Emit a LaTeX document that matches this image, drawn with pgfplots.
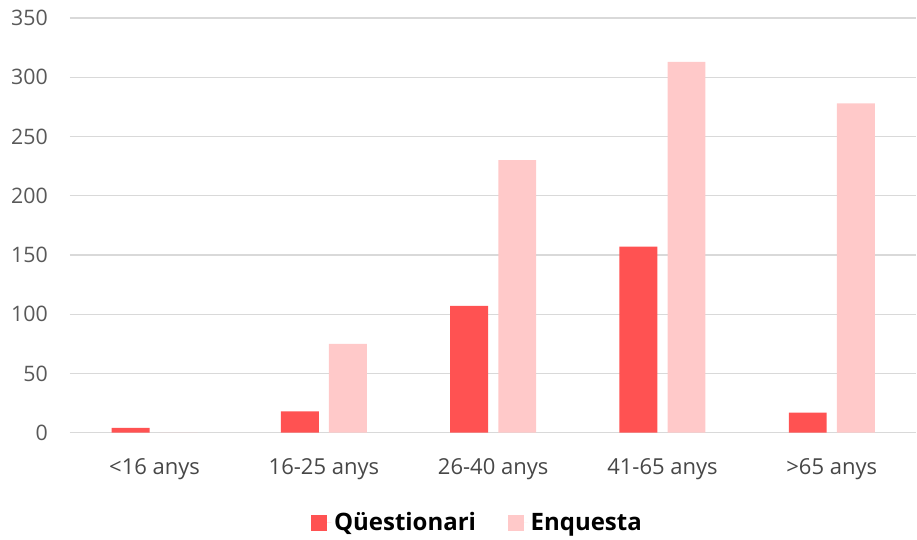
\documentclass[border=0pt]{standalone}
\usepackage{pgfplots}
\pgfplotsset{compat=1.18}
\usepackage{fontspec}
\setmainfont{Open Sans}

\definecolor{qred}{HTML}{FF5252}
\definecolor{epink}{HTML}{FFC9C9}
\definecolor{gridc}{HTML}{D9D9D9}
\definecolor{ticktxt}{HTML}{595959}

\begin{document}
\begin{tikzpicture}[x=0.75pt,y=0.75pt]
\begin{axis}[
    at={(0,0)}, anchor=south west,
    scale only axis,
    width=635.25pt, height=311.25pt,
    xmin=-0.5, xmax=4.5,
    ymin=0, ymax=350,
    xtick={0,1,2,3,4},
    xticklabels={<16 anys, 16-25 anys, 26-40 anys, 41-65 anys, >65 anys},
    ytick={0,50,...,350},
    ymajorgrids,
    grid style={gridc, line width=0.9pt},
    axis x line*=bottom,
    axis y line*=left,
    x axis line style={gridc, line width=0.9pt, -},
    y axis line style={draw=none},
    major tick length=0pt,
    tick style={draw=none},
    /pgf/number format/assume math mode=true,
    ticklabel style={font=\fontsize{16}{19}\selectfont},
    yticklabel style={text=ticktxt, anchor=east, inner sep=0pt, xshift=-16.5pt},
    xticklabel style={text=ticktxt!80!black, anchor=center, yshift=-27pt,
        font=\fontsize{16.5}{19}\selectfont},
    bar width=0.224,
    legend style={
        at={(0.482,-0.217)}, anchor=center,
        draw=none, fill=none,
        legend columns=2,
        font=\bfseries\fontsize{18}{21}\selectfont,
        /tikz/every even column/.append style={column sep=22pt},
    },
    legend image code/.code={
        \path (0pt,0pt) -- (15pt,0pt);
        \fill[#1] (0pt,-6pt) rectangle (12pt,6pt);
    },
]
\addplot[ybar, bar shift=-0.142, fill=qred, draw=none] coordinates {
    (0,4) (1,18) (2,107) (3,157) (4,17)
};
\addlegendentry{Qüestionari}
\addplot[ybar, bar shift=0.142, fill=epink, draw=none] coordinates {
    (0,0) (1,75) (2,230) (3,313) (4,278)
};
\addlegendentry{Enquesta}
\end{axis}
\path[use as bounding box] (-70,-107) rectangle (847,415+18);
\end{tikzpicture}
\end{document}
